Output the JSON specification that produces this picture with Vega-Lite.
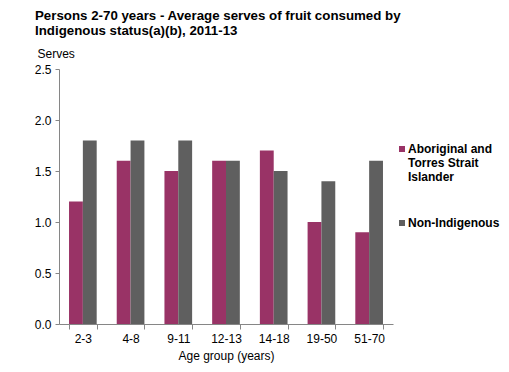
{
  "$schema": "https://vega.github.io/schema/vega-lite/v6.json",
  "autosize": "none",
  "width": 334,
  "height": 255,
  "padding": {"left": 59, "top": 69, "right": 116, "bottom": 48},
  "background": "white",
  "title": {
    "text": ["Persons 2-70 years - Average serves of fruit consumed by", "Indigenous status(a)(b),  2011-13"],
    "anchor": "start",
    "frame": "group",
    "dx": -24,
    "offset": 10,
    "font": "Liberation Sans",
    "fontSize": 13.3,
    "fontWeight": "bold",
    "color": "#000000",
    "lineHeight": 15
  },
  "config": {
    "view": {"stroke": null},
    "font": "Liberation Sans"
  },
  "data": {
    "values": [
      {"age": "2-3", "status": "Aboriginal and Torres Strait Islander", "serves": 1.2},
      {"age": "2-3", "status": "Non-Indigenous", "serves": 1.8},
      {"age": "4-8", "status": "Aboriginal and Torres Strait Islander", "serves": 1.6},
      {"age": "4-8", "status": "Non-Indigenous", "serves": 1.8},
      {"age": "9-11", "status": "Aboriginal and Torres Strait Islander", "serves": 1.5},
      {"age": "9-11", "status": "Non-Indigenous", "serves": 1.8},
      {"age": "12-13", "status": "Aboriginal and Torres Strait Islander", "serves": 1.6},
      {"age": "12-13", "status": "Non-Indigenous", "serves": 1.6},
      {"age": "14-18", "status": "Aboriginal and Torres Strait Islander", "serves": 1.7},
      {"age": "14-18", "status": "Non-Indigenous", "serves": 1.5},
      {"age": "19-50", "status": "Aboriginal and Torres Strait Islander", "serves": 1.0},
      {"age": "19-50", "status": "Non-Indigenous", "serves": 1.4},
      {"age": "51-70", "status": "Aboriginal and Torres Strait Islander", "serves": 0.9},
      {"age": "51-70", "status": "Non-Indigenous", "serves": 1.6}
    ]
  },
  "mark": {"type": "bar", "stroke": null},
  "encoding": {
    "x": {
      "field": "age",
      "type": "nominal",
      "sort": null,
      "scale": {"paddingInner": 0.42, "paddingOuter": 0.21},
      "axis": {
        "title": "Age group (years)",
        "titleFontSize": 12,
        "titleFontWeight": "normal",
        "titleColor": "#000000",
        "titlePadding": 6,
        "labelAngle": 0,
        "labelFontSize": 12,
        "labelColor": "#000000",
        "labelPadding": 4,
        "domainColor": "#868686",
        "tickColor": "#868686",
        "tickBand": "extent",
        "tickSize": 5,
        "grid": false
      }
    },
    "xOffset": {"field": "status", "type": "nominal", "scale": {"paddingInner": 0, "paddingOuter": 0}},
    "y": {
      "field": "serves",
      "type": "quantitative",
      "scale": {"domain": [0, 2.5], "nice": false},
      "axis": {
        "title": "Serves",
        "titleAngle": 0,
        "titleAlign": "left",
        "titleBaseline": "middle",
        "titleX": -22,
        "titleY": -16,
        "titleFontSize": 12,
        "titleFontWeight": "normal",
        "titleColor": "#000000",
        "values": [0, 0.5, 1, 1.5, 2, 2.5],
        "format": ".1f",
        "labelFontSize": 12,
        "labelColor": "#000000",
        "labelPadding": 4,
        "domainColor": "#868686",
        "tickColor": "#868686",
        "tickSize": 4,
        "grid": false
      }
    },
    "color": {
      "field": "status",
      "type": "nominal",
      "scale": {"range": ["#993366", "#5f5f5f"]},
      "legend": {
        "title": null,
        "orient": "none",
        "legendX": 337,
        "legendY": 74,
        "symbolType": "square",
        "symbolSize": 36,
        "symbolStrokeWidth": 0,
        "labelFontSize": 12,
        "labelFontWeight": "bold",
        "labelColor": "#000000",
        "labelLimit": 200,
        "labelOffset": 0,
        "rowPadding": 34,
        "labelExpr": "datum.label == 'Aboriginal and Torres Strait Islander' ? ['Aboriginal and', 'Torres Strait', 'Islander'] : datum.label"
      }
    }
  }
}
